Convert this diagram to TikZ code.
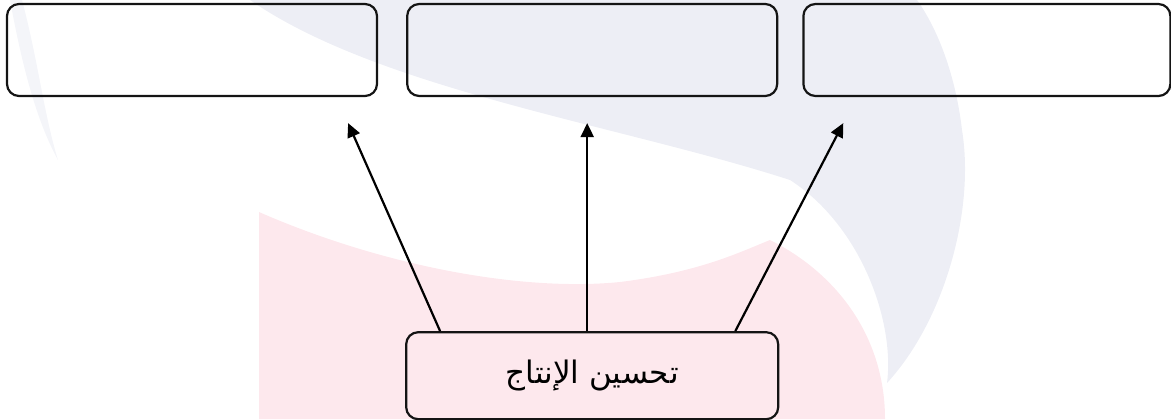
\documentclass[tikz,border=0pt]{standalone}
\usepackage{fontspec}
\newfontfamily\arabicfont[Script=Arabic]{DejaVu Sans}
\TeXXeTstate=1
\usepackage{xcolor}
\definecolor{BoxLine}{HTML}{141414}
\definecolor{LogoBlue}{HTML}{EDEEF5}
\definecolor{LogoPink}{HTML}{FDE8ED}
\usepackage{tikz}
\usetikzlibrary{arrows.meta, positioning, calc}
\tikzstyle{block} = [rectangle, draw=BoxLine, minimum width=185pt, minimum height=46pt, rounded corners=6pt, line width=1.1pt, inner sep=0pt]
\tikzstyle{arrow} = [-{Triangle[length=7pt,width=6.5pt]}, draw=black, line width=1.1pt]

\begin{document}
\begin{tikzpicture}[x=0.5pt, y=-0.5pt]
        \useasboundingbox (0,0) rectangle (1171,419);

        % faint logo behind the chart
        \fill[LogoBlue] (250,0) .. controls (380,90) and (620,125) .. (790,180) .. controls (860,225) and (895,320) .. (887,383) .. controls (945,320) and (975,210) .. (962,130) .. controls (955,70) and (935,25) .. (917,0) -- cycle;
        \fill[LogoBlue!60] (22,0) .. controls (38,60) and (44,115) .. (58,160) .. controls (36,120) and (22,65) .. (10,0) -- cycle;
        \fill[LogoPink] (259,212) .. controls (380,265) and (520,292) .. (620,282) .. controls (700,272) and (740,252) .. (770,240) .. controls (840,275) and (885,340) .. (885,419) -- (259,419) -- cycle;

        \node [block] (boxA) at (192,50) {};
        \node [block, right=14pt of boxA] (boxB) {};
        \node [block, right=12pt of boxB, minimum width=183.5pt] (boxC) {};

        \node [block, below=117pt of boxB, minimum width=186pt, minimum height=43.5pt] (result) {\fontsize{15.5}{18}\selectfont\arabicfont\beginR تحسين الإنتاج\endR};

        \coordinate (tipA) at ($(boxA.south east)+(-30,26)$);
        \coordinate (tipB) at ($(result.north)+(-5,-208)$);
        \coordinate (tipC) at ($(boxC.south west)+(41,26)$);

        \draw [arrow] ($(result.north west)+(35,0)$) -- (tipA);
        \draw [arrow] ($(result.north)+(-5,0)$) -- (tipB);
        \draw [arrow] ($(result.north east)+(-44,0)$) -- (tipC);
    \end{tikzpicture}
\end{document}
